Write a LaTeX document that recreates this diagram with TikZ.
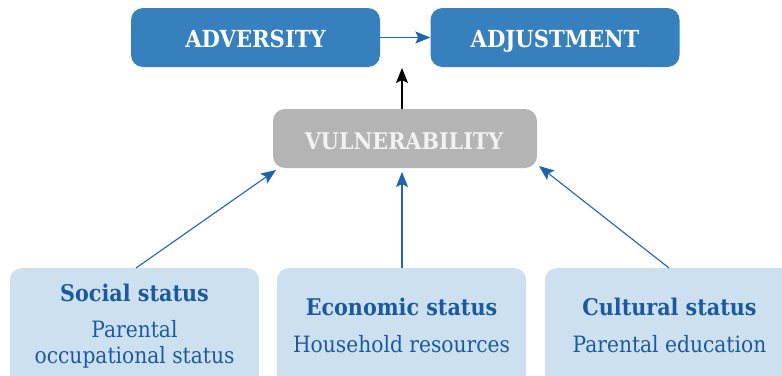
\documentclass[tikz,border=0pt]{standalone}
\usepackage{fontspec}
\setmainfont{DejaVu Serif Condensed}
\usetikzlibrary{arrows.meta}
\definecolor{darkbox}{HTML}{3680BE}
\definecolor{lightbox}{HTML}{CDE0F0}
\definecolor{graybox}{HTML}{B4B4B4}
\definecolor{graytext}{HTML}{F2F2F2}
\definecolor{arrowblue}{HTML}{1F64AD}
\definecolor{labelblue}{HTML}{1B5A9E}
\tikzset{
  topbox/.style={fill=darkbox, rounded corners=12pt, minimum width=249pt, minimum height=59pt, inner sep=0pt},
  vulnbox/.style={fill=graybox, rounded corners=12pt, minimum width=264pt, minimum height=59pt, inner sep=0pt},
  statbox/.style={fill=lightbox, rounded corners=12pt, minimum width=249pt, minimum height=120pt, inner sep=0pt},
  toptxt/.style={anchor=base, text=white, font=\fontsize{23.5}{26}\selectfont\bfseries, inner sep=0pt},
  vultxt/.style={anchor=base, text=graytext, font=\fontsize{23}{26}\selectfont\bfseries, inner sep=0pt},
  headtxt/.style={anchor=base, text=labelblue, font=\fontsize{23}{26}\selectfont\bfseries, inner sep=0pt},
  subtxt/.style={anchor=base, text=labelblue, font=\fontsize{22.5}{26}\selectfont, inner sep=0pt},
  arrowtip/.style={-{Stealth[length=15pt,width=12pt,inset=3pt]}},
  bluearrow/.style={draw=arrowblue, line width=1.1pt, arrowtip},
  blackarrow/.style={draw=black, line width=1.1pt, arrowtip}
}
\begin{document}
\begin{tikzpicture}[x=1pt,y=-1pt]
\useasboundingbox (0,0) rectangle (782,375);
\clip (0,0) rectangle (782,375);
\node[topbox] (adv) at (255.5,37.5) {};
\node[topbox] (adj) at (555,37.5) {};
\node[vulnbox] (vul) at (405,138.5) {};
\node[statbox] (soc) at (134.5,328) {};
\node[statbox] (eco) at (401.5,328) {};
\node[statbox] (cul) at (669.5,328) {};
\node[toptxt] (advT) at (255.5,47) {ADVERSITY};
\node[toptxt] (adjT) at (555,47) {ADJUSTMENT};
\node[vultxt] (vulT) at (404,149) {VULNERABILITY};
\node[headtxt] (socH) at (134.5,301) {Social status};
\node[subtxt] (socS1) at (134.5,337) {Parental};
\node[subtxt] (socS2) at (134.5,363) {occupational status};
\node[headtxt] (ecoH) at (401.5,315) {Economic status};
\node[subtxt] (ecoS) at (401.5,352) {Household resources};
\node[headtxt] (culH) at (669.5,315) {Cultural status};
\node[subtxt] (culS) at (669.5,352) {Parental education};
\coordinate (gap) at (402,68);
\coordinate (socT) at (136,268);
\coordinate (ecoT) at (402,268);
\coordinate (culT) at (669,268);
\coordinate (vulL) at (276,170);
\coordinate (vulM) at (402,172);
\coordinate (vulR) at (539,166);
\draw[bluearrow] (adv.east) -- (adj.west);
\draw[blackarrow] (vul.north -| gap) -- (gap);
\draw[bluearrow] (socT) -- (vulL);
\draw[bluearrow] (ecoT) -- (vulM);
\draw[bluearrow] (culT) -- (vulR);
\end{tikzpicture}
\end{document}
